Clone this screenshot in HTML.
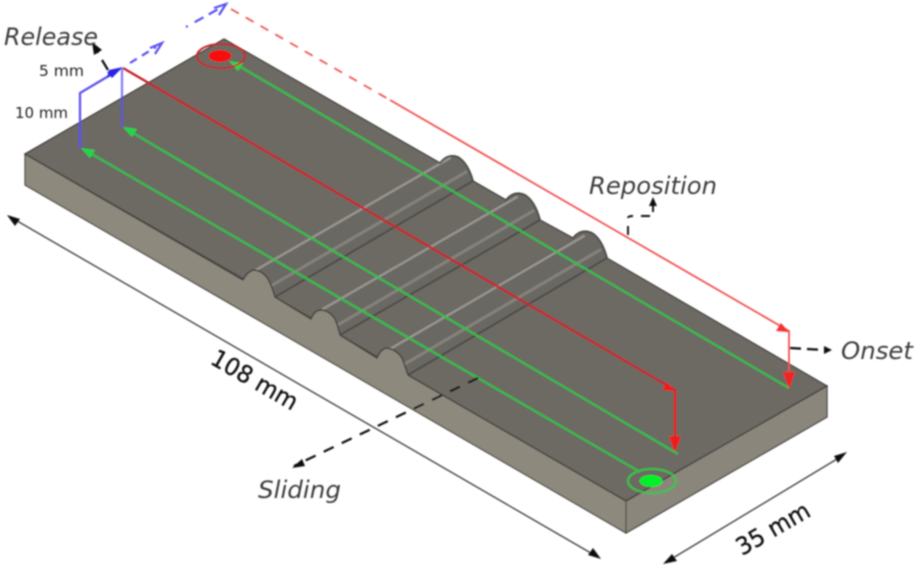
<!DOCTYPE html>
<html><head><meta charset="utf-8"><style>
html,body{margin:0;padding:0;background:#fff;width:917px;height:570px;overflow:hidden}
svg{display:block}
text{font-family:"DejaVu Sans","Liberation Sans",sans-serif}
</style></head><body>
<svg width="917" height="570" viewBox="0 0 917 570" xmlns="http://www.w3.org/2000/svg">
<defs>
<filter id="b" x="-5%" y="-5%" width="110%" height="110%"><feGaussianBlur stdDeviation="0.7"/></filter>
</defs>
<g filter="url(#b)">
<!-- side face -->
<path d="M25 154V185L626 533L827 417V386L626 501Z" fill="#8e897d" stroke="#4a4845" stroke-width="1.2"/>
<path d="M626 501V533L827 417V386Z" fill="#8a867c" stroke="#4a4845" stroke-width="1.2"/>
<!-- top surface -->
<path d="M25 154L224 39L440 163 Q448 153 458 157 Q468 163 473 181 L506 200 Q514 190 525 195 Q535 201 540 220 L573 238 Q581 228 592 233 Q602 239 607 258 L827 386L626 501L408 375 L340 335 L275 297 Z" fill="#6d6964" stroke="#454340" stroke-width="1.3"/>
<!-- ribs -->
<g stroke-linecap="round">
<path d="M246 274 Q250 268 258 271 Q270 277 275 297 L473 181 Q468 163 458 157 Q448 153 440 163 Z" fill="#6b6863"/>
<path d="M313 314 Q318 307 326 311 Q336 317 340 335 L540 220 Q535 201 525 195 Q514 190 506 200 Z" fill="#6b6863"/>
<path d="M380 353 Q385 346 393 350 Q403 356 408 375 L607 258 Q602 239 592 233 Q581 228 573 238 Z" fill="#6b6863"/>
<g fill="none" stroke="#9a9791" stroke-width="2.2">
<path d="M256 270L450 158"/><path d="M323 309L517 197"/><path d="M390 349L584 236"/>
</g>
<g fill="none" stroke="#85827c" stroke-width="3">
<path d="M269 287L466 172"/><path d="M336 326L533 211"/><path d="M403 365L600 250"/>
</g>
<g fill="none" stroke="#4a4845" stroke-width="1.8">
<path d="M275 297L473 181"/><path d="M340 335L540 220"/><path d="M408 375L607 258"/>
<path d="M440 163 Q448 153 458 157 Q468 163 473 181"/>
<path d="M506 200 Q514 190 525 195 Q535 201 540 220"/>
<path d="M573 238 Q581 228 592 233 Q602 239 607 258"/>
</g>
</g>
<!-- front-face bump profiles in side colour -->
<path d="M243 280 Q247 272 253 270 Q262 270 268 279 Q272 286 275 297 L311 319 Q314 311 320 310 Q329 310 335 319 Q338 326 340 335 L377 358 Q380 350 386 348 Q396 349 402 358 Q405 366 408 375 L400 385 L240 292 Z" fill="#8e897d"/>
<path d="M243 280 Q247 272 253 270 Q262 270 268 279 Q272 286 275 297 L311 319 Q314 311 320 310 Q329 310 335 319 Q338 326 340 335 L377 358 Q380 350 386 348 Q396 349 402 358 Q405 366 408 375" fill="none" stroke="#454340" stroke-width="1.5"/>
<path d="M25 154L243 280M408 375L626 501L827 386" stroke="#454340" stroke-width="1.3" fill="none"/>
<!-- green lines -->
<g stroke="#2abf48" stroke-width="2.2" fill="none">
<path d="M90 153L640 472"/><path d="M133 133L678 454"/><path d="M239 66L789 388"/>
</g>
<g fill="#1fd94a">
<path d="M81 148L95 150L90 158Z"/><path d="M123 127L137 129L132 137Z"/><path d="M229 61L243 63L238 71Z"/>
</g>
<!-- red line -->
<path d="M123 68L675 390V440" stroke="#c8242a" stroke-width="2.4" fill="none"/>
<path d="M675 391L662 390L667 382Z" fill="#f01c1c"/>
<path d="M675 453L669 436H681Z" fill="#f01c1c"/>
<path d="M675 391V440" stroke="#e81c1c" stroke-width="2.2"/>
<!-- light red -->
<path d="M231 9L390 100" stroke="#f25555" stroke-width="1.8" stroke-dasharray="9 8" fill="none"/>
<path d="M390 100L789 331V375" stroke="#f45050" stroke-width="1.8" fill="none"/>
<path d="M789 332L776 331L781 323Z" fill="#f43030"/>
<path d="M789 389L783 372H795Z" fill="#f42020"/>
<!-- blue -->
<path d="M80 148V93L112 74" stroke="#5a50f0" stroke-width="2.2" fill="none"/>
<path d="M122 68V127" stroke="#5a50f0" stroke-width="2.2" fill="none" opacity=".75"/>
<path d="M123 67L107 78L109 70Z" fill="#2a20e8"/>
<path d="M107 72L122 68L112 78Z" fill="#2a20e8"/>
<path d="M130 63L156 47" stroke="#5a50f0" stroke-width="2.2" stroke-dasharray="8 6" fill="none"/>
<path d="M150 48L162 43L155 54" stroke="#5a50f0" stroke-width="2.2" fill="none"/>
<path d="M186 27L222 7" stroke="#5a50f0" stroke-width="2.2" stroke-dasharray="2 8 10 6 10 6" fill="none"/>
<path d="M214 8L226 4L219 15" stroke="#5a50f0" stroke-width="2.2" fill="none"/>
<!-- end markers -->
<ellipse cx="221" cy="56" rx="24" ry="12" fill="none" stroke="#c4282c" stroke-width="2"/>
<ellipse cx="220" cy="56" rx="11.5" ry="6" fill="#f80808"/>
<ellipse cx="652" cy="481" rx="24" ry="12" fill="none" stroke="#28c840" stroke-width="2"/>
<ellipse cx="651" cy="481" rx="11.5" ry="6" fill="#05f02a"/>
<!-- black dashed callouts -->
<g stroke="#111" stroke-width="2.2" fill="none">
<path d="M108 70L102 60M98 53L95 47"/>
<path d="M478 378L294 466" stroke-dasharray="11 9"/>
<path d="M628 235V226M628 218Q628 216 633 216M641 216H650M653 212V201" stroke-width="1.9"/>
<path d="M790 348L824 350" stroke-dasharray="11 6"/>
</g>
<path d="M92 42L102 50L94 55Z" fill="#111"/>
<path d="M292 468L302 459L305 466Z" fill="#111"/>
<path d="M653 197L649 206H657Z" fill="#111"/>
<path d="M832 350L824 346V354Z" fill="#111"/>
<!-- dimension lines -->
<path d="M12 218L596 556" stroke="#444" stroke-width="1.4" fill="none"/>
<path d="M7 215L20 219L15 226Z" fill="#111"/>
<path d="M601 559L588 555L593 548Z" fill="#111"/>
<path d="M668 561L842 456" stroke="#444" stroke-width="1.4" fill="none"/>
<path d="M663 564L672 554L677 561Z" fill="#111"/>
<path d="M847 452L834 456L838 463Z" fill="#111"/>
<!-- labels -->
<g fill="#3c3c3c">
<text x="4" y="45" font-size="24" font-style="italic" textLength="94" lengthAdjust="spacingAndGlyphs">Release</text>
<text x="39" y="76" font-size="15" fill="#222" textLength="45" lengthAdjust="spacingAndGlyphs">5 mm</text>
<text x="15" y="118" font-size="15" fill="#222" textLength="53" lengthAdjust="spacingAndGlyphs">10 mm</text>
<text x="589" y="194" font-size="24" font-style="italic" textLength="128" lengthAdjust="spacingAndGlyphs">Reposition</text>
<text x="841" y="359" font-size="24" font-style="italic" textLength="72" lengthAdjust="spacingAndGlyphs">Onset</text>
<text x="258" y="498" font-size="24" font-style="italic" textLength="83" lengthAdjust="spacingAndGlyphs">Sliding</text>
</g>
<text transform="translate(209 363) rotate(30)" font-size="24" fill="#111" stroke="#111" stroke-width=".3" textLength="96" lengthAdjust="spacingAndGlyphs">108 mm</text>
<text transform="translate(742 556) rotate(-30)" font-size="24" fill="#111" stroke="#111" stroke-width=".3" textLength="81" lengthAdjust="spacingAndGlyphs">35 mm</text>
</g>
</svg>
</body></html>
